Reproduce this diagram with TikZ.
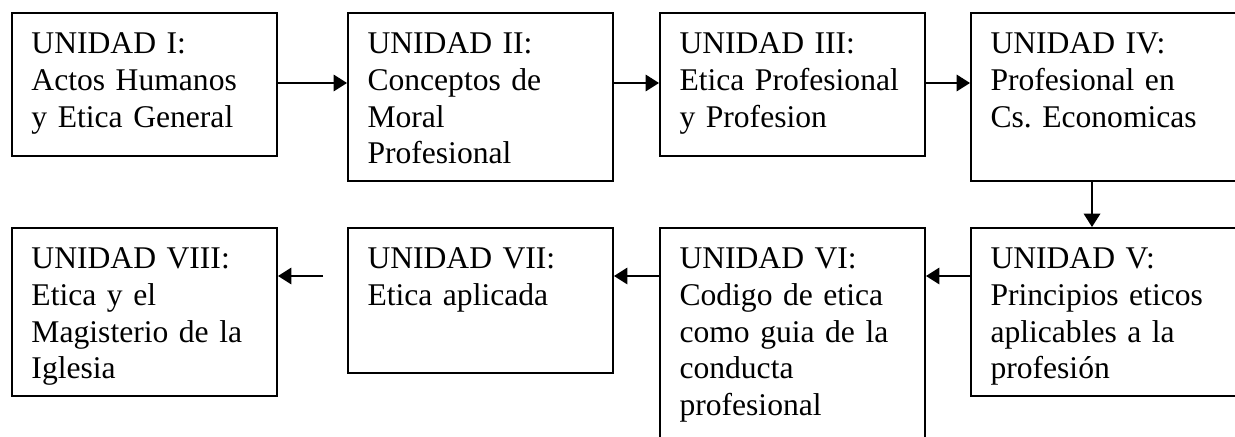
\documentclass[tikz,border=0pt]{standalone}
\usepackage{fontspec}
\setmainfont{Liberation Serif}
\usetikzlibrary{arrows.meta}

\newcommand\unitfont{\fontsize{15.8}{18.3}\selectfont\frenchspacing\hyphenpenalty=10000\relax}

\tikzset{
  unitbox/.style={draw, line width=1pt, anchor=north west, align=left,
    text width=113pt, inner xsep=9.75pt, inner ysep=9.5pt, text height=11pt,
    font=\unitfont},
  flow/.style={-{Triangle[length=6.7pt,width=8.3pt]}, line width=0.75pt}
}

\begin{document}
\begin{tikzpicture}[x=0.5pt,y=-0.5pt]
  \useasboundingbox (0,0) rectangle (1235,437);

  % Upper row of units
  \node[unitbox, text depth=41.5pt] (u1) at (11,12) {UNIDAD I:\\Actos Humanos\\y Etica General};
  \node[unitbox, text depth=54pt] (u2) at (347,12) {UNIDAD II:\\Conceptos de\\Moral\\Profesional};
  \node[unitbox, text depth=41.5pt] (u3) at (659,12) {UNIDAD III:\\Etica Profesional\\y Profesion};
  \node[unitbox, text depth=54pt, text width=115pt] (u4) at (970,12) {UNIDAD IV:\\Profesional en\\Cs. Economicas};

  % Lower row of units
  \node[unitbox, text depth=54pt, text width=115pt] (u5) at (970,227) {UNIDAD V:\\Principios eticos\\aplicables a la\\profesión};
  \node[unitbox, text depth=80pt] (u6) at (659,227) {UNIDAD VI:\\Codigo de etica\\como guia de la\\conducta\\profesional};
  \node[unitbox, text depth=42.5pt] (u7) at (347,227) {UNIDAD VII:\\Etica aplicada};
  \node[unitbox, text depth=54pt] (u8) at (11,227) {UNIDAD VIII:\\Etica y el\\Magisterio de la\\Iglesia};

  % Arrows
  \draw[flow] ([yshift=-35.5pt]u1.north east) -- ([yshift=-35.5pt]u2.north west);
  \draw[flow] ([yshift=-35.5pt]u2.north east) -- ([yshift=-35.5pt]u3.north west);
  \draw[flow] ([yshift=-35.5pt]u3.north east) -- ([yshift=-35.5pt]u4.north west);
  \draw[flow] ([xshift=61pt]u4.south west) -- ([xshift=61pt]u5.north west);
  \draw[flow] ([yshift=-24.5pt]u5.north west) -- ([yshift=-24.5pt]u6.north east);
  \draw[flow] ([yshift=-24.5pt]u6.north west) -- ([yshift=-24.5pt]u7.north east);
  \coordinate (gap) at (323,276);
  \draw[flow] (gap) -- (gap -| u8.east);

\end{tikzpicture}
\end{document}
